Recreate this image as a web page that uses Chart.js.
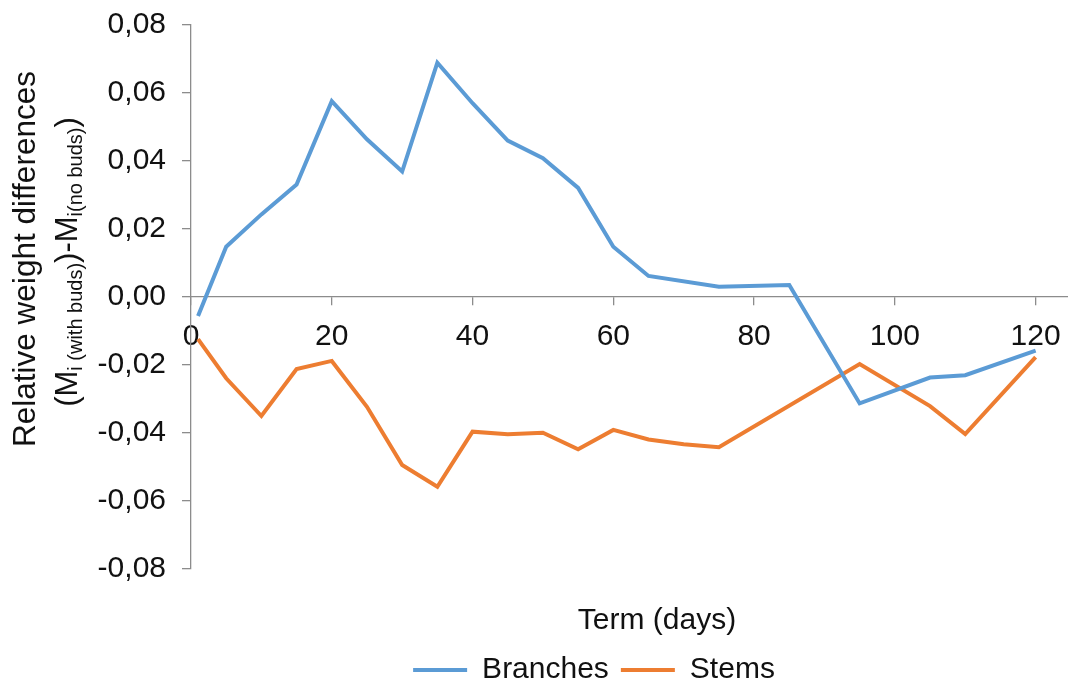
<!DOCTYPE html>
<html>
<head>
<meta charset="utf-8">
<script src="https://cdn.jsdelivr.net/npm/chart.js@4.4.1/dist/chart.umd.min.js"></script>
<style>
html,body{margin:0;padding:0;background:#fff;}
#wrap{width:1068px;height:685px;position:relative;}
</style>
</head>
<body>
<div id="wrap"><canvas id="c"></canvas></div>
<script>
// ---- data ----
const seriesNames = ['Branches', 'Stems'];
const branchDays   = [1, 5, 10, 15, 20, 25, 30, 35, 40, 45, 50, 55, 60, 65, 75, 85, 95, 105, 110, 120];
const branchValues = [-0.0056, 0.0148, 0.0243, 0.0331, 0.0576, 0.0464, 0.0369, 0.0689, 0.0570, 0.0460, 0.0408, 0.0321, 0.0148, 0.0062, 0.0030, 0.0035, -0.0313, -0.0237, -0.0230, -0.0158];
const stemDays     = [1, 5, 10, 15, 20, 25, 30, 35, 40, 45, 50, 55, 60, 65, 70, 75, 95, 105, 110, 120];
const stemValues   = [-0.0124, -0.0239, -0.0350, -0.0212, -0.0188, -0.0323, -0.0494, -0.0558, -0.0396, -0.0404, -0.0399, -0.0448, -0.0391, -0.0419, -0.0433, -0.0442, -0.0197, -0.0321, -0.0403, -0.0177];
const xTitle = 'Term (days)';
const yTitleLine1 = 'Relative weight differences';
const yTitleLine2 = [
  {t: '(M', sub: false},
  {t: 'i (with buds)', sub: true},
  {t: ')-M', sub: false},
  {t: 'i(no buds)', sub: true},
  {t: ')', sub: false}
];

const FONT = '"Liberation Sans", Arial, Helvetica, sans-serif';
const TEXT = '#111111';
const AXIS = '#8c8c8c';

function toPoints(xs, ys) { return xs.map((x, i) => ({x: x, y: ys[i]})); }

const titlePlugin = {
  id: 'axisTitles',
  afterLayout(chart) {
    // centre the legend under the plot like the reference
    if (chart.legend) { chart.legend.left = 120; }
  },
  afterDraw(chart) {
    const ctx = chart.ctx;
    ctx.save();
    ctx.fillStyle = TEXT;
    ctx.textBaseline = 'alphabetic';
    // x title
    ctx.font = '30px ' + FONT;
    ctx.textAlign = 'center';
    ctx.fillText(xTitle, 657, 629);
    // y title line 1
    ctx.save();
    ctx.translate(35, 259);
    ctx.rotate(-Math.PI / 2);
    ctx.font = '31.5px ' + FONT;
    ctx.textAlign = 'center';
    ctx.fillText(yTitleLine1, 0, 0);
    ctx.restore();
    // y title line 2 with subscripts
    ctx.save();
    ctx.translate(77, 262);
    ctx.rotate(-Math.PI / 2);
    ctx.textAlign = 'left';
    const mainFont = '31px ' + FONT, subFont = '20px ' + FONT;
    let total = 0;
    yTitleLine2.forEach(s => { ctx.font = s.sub ? subFont : mainFont; total += ctx.measureText(s.t).width; });
    let x = -total / 2;
    yTitleLine2.forEach(s => {
      ctx.font = s.sub ? subFont : mainFont;
      ctx.fillText(s.t, x, s.sub ? 5 : 0);
      x += ctx.measureText(s.t).width;
    });
    ctx.restore();
    ctx.restore();
  }
};

const fmt = v => { if (Math.abs(v) < 1e-9) v = 0; return v.toFixed(2).replace('.', ','); };

new Chart(document.getElementById('c'), {
  type: 'line',
  data: {
    datasets: [
      {label: seriesNames[0], data: toPoints(branchDays, branchValues), borderColor: '#5B9BD5', backgroundColor: '#5B9BD5', borderWidth: 4, pointRadius: 0, tension: 0, fill: false},
      {label: seriesNames[1], data: toPoints(stemDays, stemValues), borderColor: '#ED7D31', backgroundColor: '#ED7D31', borderWidth: 4, pointRadius: 0, tension: 0, fill: false}
    ]
  },
  options: {
    responsive: true,
    maintainAspectRatio: false,
    animation: false,
    layout: {padding: {left: 0, right: 0, top: 25, bottom: -10}},
    plugins: {
      tooltip: {enabled: false},
      legend: {
        position: 'bottom',
        title: {display: true, text: '', padding: 0, font: {size: 74, lineHeight: 1}},
        labels: {
          font: {family: FONT, size: 30},
          color: TEXT,
          boxWidth: 54,
          boxHeight: 4,
          padding: 12,
          generateLabels: chart => chart.data.datasets.map((ds, i) => ({
            text: ds.label, fillStyle: ds.borderColor, strokeStyle: ds.borderColor,
            lineWidth: 0, hidden: false, datasetIndex: i, fontColor: TEXT
          }))
        }
      }
    },
    scales: {
      x: {
        type: 'linear',
        position: {y: 0},
        min: 0,
        max: 124.6,
        ticks: {stepSize: 20, includeBounds: false, font: {family: FONT, size: 30}, color: TEXT, padding: 14, maxRotation: 0},
        grid: {display: true, drawOnChartArea: false, drawTicks: true, tickLength: 8, color: AXIS, lineWidth: 1.3},
        border: {display: true, color: AXIS, width: 1.3},
        afterFit: s => { s.paddingTop = 0; s.paddingBottom = 0; s.paddingLeft = 0; s.paddingRight = 0; }
      },
      y: {
        type: 'linear',
        min: -0.08,
        max: 0.08,
        ticks: {stepSize: 0.02, font: {family: FONT, size: 30}, color: TEXT, padding: 16, callback: v => fmt(v)},
        grid: {display: true, drawOnChartArea: false, drawTicks: true, tickLength: 9, color: AXIS, lineWidth: 1.3},
        border: {display: true, color: AXIS, width: 1.3},
        afterFit: s => { s.width = 191; s.paddingTop = 0; s.paddingBottom = 0; }
      }
    }
  },
  plugins: [titlePlugin]
});
</script>
</body>
</html>
